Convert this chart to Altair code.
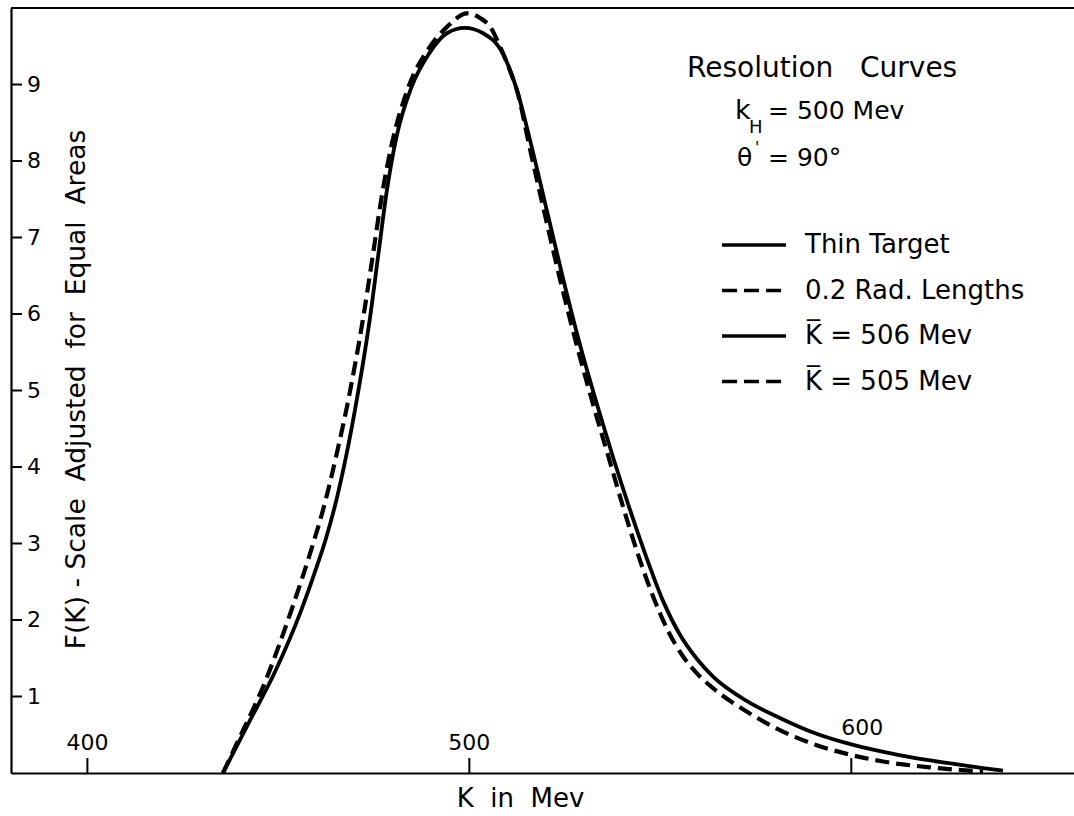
import altair as alt
import pandas as pd

FONT = "DejaVu Sans"
SP = "\u00a0"

# Resolution curve for the thin target (solid)
k_thin = [435.5, 442.6, 449.0, 455.7, 460.0, 462.3, 465.2, 467.9, 470.5, 473.9,
          476.2, 478.3, 480.9, 484.8, 489.4, 494.1, 498.8, 503.6, 508.8, 512.5,
          515.9, 520.3, 524.5, 529.0, 533.4, 537.6, 542.0, 546.5, 550.7, 555.1,
          559.6, 563.8, 572.7, 581.3, 590.0, 598.8, 607.5, 617.2, 626.0, 634.5,
          639.7]
f_thin = [0.0, 0.69, 1.31, 2.09, 2.69, 3.04, 3.57, 4.18, 4.87, 5.92,
          6.79, 7.58, 8.31, 8.96, 9.40, 9.67, 9.74, 9.67, 9.40, 8.92,
          8.27, 7.35, 6.47, 5.59, 4.82, 4.13, 3.45, 2.80, 2.25, 1.81,
          1.49, 1.26, 0.94, 0.72, 0.53, 0.39, 0.285, 0.19, 0.125, 0.065,
          0.03]

# Resolution curve for 0.2 radiation lengths (dashed)
k_thick = [435.5, 438.3, 447.0, 453.7, 458.8, 461.7, 465.4, 468.0, 472.1, 474.8,
           477.2, 479.6, 484.0, 489.5, 494.1, 499.4, 502.8, 505.5, 508.0, 510.5,
           512.6, 515.9, 520.0, 524.0, 528.5, 532.5, 536.5, 540.0, 544.0, 548.0,
           552.0, 556.0, 560.0, 564.0, 572.7, 581.3, 590.0, 598.8, 608.3, 621.4,
           634.5]
f_thick = [0.0, 0.30, 1.25, 2.17, 2.95, 3.44, 4.20, 4.80, 5.92, 6.79,
           7.58, 8.20, 8.96, 9.48, 9.75, 9.93, 9.87, 9.75, 9.50, 9.20,
           8.90, 8.15, 7.25, 6.40, 5.52, 4.80, 4.12, 3.52, 2.88, 2.32,
           1.86, 1.52, 1.28, 1.10, 0.80, 0.56, 0.38, 0.25, 0.15, 0.07,
           0.02]

y_ticks = [1, 2, 3, 4, 5, 6, 7, 8, 9]
x_ticks = [400, 500, 600]
x_low_labels = [400, 500]
x_high_labels = [600]

legend_labels = ["Thin Target", "0.2 Rad. Lengths", "K\u0305 = 506 Mev", "K\u0305 = 505 Mev"]
legend_dashed = [False, True, False, True]

W, H = 1063, 765

thin = pd.DataFrame({"K": k_thin, "F": f_thin})
thick = pd.DataFrame({"K": k_thick, "F": f_thick})

x_scale = alt.Scale(domain=[380, 658.3], nice=False, zero=False)
y_scale = alt.Scale(domain=[0, 10], nice=False)

x_axis = alt.Axis(ticks=False, labels=False, grid=False, domain=True,
                  domainColor="black", domainWidth=2.2,
                  title=f"K{SP} in{SP} Mev", titleFont=FONT, titleFontSize=26,
                  titleFontWeight="normal", titleColor="black",
                  titleX=509, titleY=25, titleBaseline="middle", titleAlign="center")
y_axis = alt.Axis(ticks=False, labels=False, grid=False, domain=True,
                  domainColor="black", domainWidth=2.2,
                  title=f"F(K){SP}-{SP}Scale{SP} Adjusted{SP} for{SP} Equal{SP} Areas",
                  titleFont=FONT, titleFontSize=26.5, titleFontWeight="normal",
                  titleColor="black", titleX=65, titleY=381, titleAngle=270,
                  titleBaseline="middle", titleAlign="center")

solid = alt.Chart(thin).mark_line(color="black", strokeWidth=3.8, interpolate="monotone").encode(
    x=alt.X("K:Q", scale=x_scale, axis=x_axis),
    y=alt.Y("F:Q", scale=y_scale, axis=y_axis),
)
dashed = alt.Chart(thick).mark_line(color="black", strokeWidth=4.2, strokeDash=[14, 7],
                                    interpolate="monotone").encode(
    x=alt.X("K:Q", scale=x_scale),
    y=alt.Y("F:Q", scale=y_scale),
)

# frame top edge
top_edge = alt.Chart(pd.DataFrame({"a": [0]})).mark_rule(color="black", strokeWidth=2.2).encode(
    x=alt.value(0), x2=alt.value(W), y=alt.value(0)
)

# inward ticks and labels on the F axis
yt = pd.DataFrame({"v": y_ticks, "s": [str(v) for v in y_ticks]})
y_tick_marks = alt.Chart(yt).mark_rule(color="black", strokeWidth=2).encode(
    y=alt.Y("v:Q", scale=y_scale), x=alt.value(0), x2=alt.value(11)
)
y_tick_text = alt.Chart(yt).mark_text(font=FONT, fontSize=22, align="left", baseline="middle",
                                      color="black").encode(
    y=alt.Y("v:Q", scale=y_scale), x=alt.value(16), text="s:N"
)

# inward ticks and labels on the K axis
xt = pd.DataFrame({"v": x_ticks})
x_tick_marks = alt.Chart(xt).mark_rule(color="black", strokeWidth=2).encode(
    x=alt.X("v:Q", scale=x_scale), y=alt.value(H - 15), y2=alt.value(H)
)
xl = pd.DataFrame({"v": x_low_labels, "s": [str(v) for v in x_low_labels]})
x_low_text = alt.Chart(xl).mark_text(font=FONT, fontSize=22, align="center", baseline="middle",
                                     color="black").encode(
    x=alt.X("v:Q", scale=x_scale), y=alt.value(H - 30), text="s:N"
)
xh = pd.DataFrame({"v": x_high_labels, "s": [str(v) for v in x_high_labels]})
x_high_text = alt.Chart(xh).mark_text(font=FONT, fontSize=22, align="center", baseline="middle",
                                      color="black", dx=11).encode(
    x=alt.X("v:Q", scale=x_scale), y=alt.value(H - 45), text="s:N"
)


def note(text, x, y, size, align="left"):
    return alt.Chart(pd.DataFrame({"t": [text]})).mark_text(
        font=FONT, fontSize=size, align=align, baseline="middle", color="black"
    ).encode(x=alt.value(x), y=alt.value(y), text="t:N")


notes = [
    note(f"Resolution{SP}{SP} Curves", 676, 61, 28),
    note("k", 724, 103, 27),
    note("H", 738, 120, 18),
    note("= 500 Mev", 757, 103, 25),
    note("\u03b8", 726, 150, 25),
    note("'", 744, 140, 16),
    note("= 90\u00b0", 757, 150, 25),
]

legend_layers = []
for i, (lab, dsh) in enumerate(zip(legend_labels, legend_dashed)):
    ly = 237 + i * 45.5
    rule = alt.Chart(pd.DataFrame({"a": [0]})).mark_rule(
        color="black", strokeWidth=3.6, strokeDash=[15, 7] if dsh else [1, 0]
    ).encode(x=alt.value(711), x2=alt.value(775), y=alt.value(ly))
    legend_layers.append(rule)
    legend_layers.append(note(lab, 794, ly, 26))

chart = alt.layer(
    solid, dashed, top_edge, y_tick_marks, y_tick_text, x_tick_marks, x_low_text, x_high_text,
    *notes, *legend_layers
).properties(
    width=W, height=H,
    autosize=alt.AutoSizeParams(type="none"),
    padding={"left": 11, "top": 8, "right": 0, "bottom": 43},
    background="white",
).configure_view(stroke=None)

chart.save("out.html", embed_options={"renderer": "svg", "actions": False})
